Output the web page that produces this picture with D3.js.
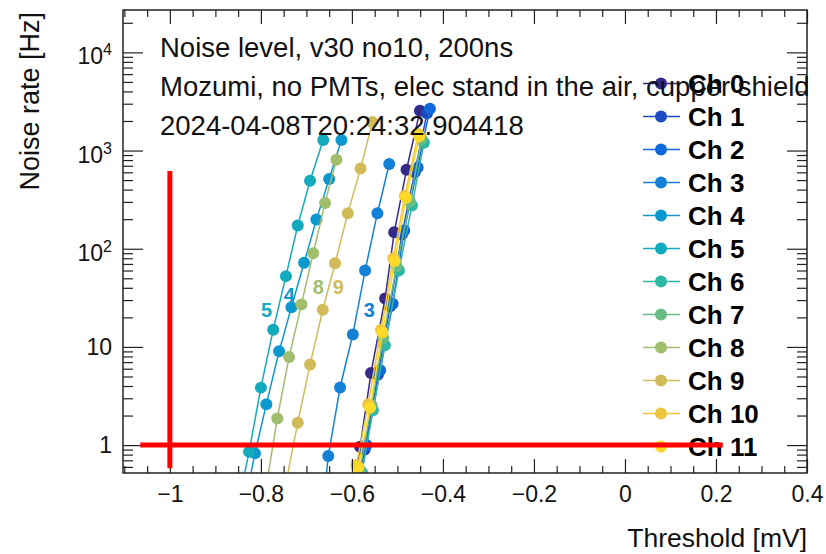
<!DOCTYPE html>
<html>
<head>
<meta charset="utf-8">
<script src="https://cdn.jsdelivr.net/npm/d3@7"></script>
<style>
  body { margin: 0; background: #fff; }
  svg { font-family: "Liberation Sans", Arial, Helvetica, sans-serif; }
</style>
</head>
<body>
<div id="chart"></div>
<script>
// Threshold scan per channel: threshold [mV] and noise rate [Hz]
const thr0 = [-0.606, -0.582, -0.558, -0.527, -0.507, -0.480, -0.4505];
const rate0 = [0.17, 0.96, 5.43, 31.2, 147, 638, 2540];
const thr1 = [-0.598, -0.572, -0.543, -0.516, -0.490, -0.462, -0.435];
const rate1 = [0.18, 0.9, 5.2, 26, 140, 600, 2400];
const thr2 = [-0.594, -0.568, -0.538, -0.5105, -0.485, -0.4556, -0.4286];
const rate2 = [0.2, 1.0, 5.78, 27.5, 153, 673, 2661];
const thr3 = [-0.678, -0.652, -0.626, -0.598, -0.571, -0.544, -0.518];
const rate3 = [0.05, 0.773, 3.86, 13.4, 60, 230, 729];
const thr4 = [-0.840, -0.813, -0.788, -0.760, -0.733, -0.705, -0.678, -0.650, -0.623];
const rate4 = [0.2, 0.824, 2.61, 9.02, 25.4, 71.9, 198, 513, 1279];
const thr5 = [-0.852, -0.826, -0.800, -0.773, -0.745, -0.719, -0.692, -0.663];
const rate5 = [0.22, 0.855, 3.85, 15.0, 52.6, 172, 493, 1279];
const thr6 = [-0.603, -0.578, -0.5538, -0.5275, -0.4967, -0.468, -0.4418];
const rate6 = [0.12, 0.53, 2.27, 10.4, 60, 275, 1200];
const thr7 = [-0.607, -0.5824, -0.5567, -0.5312, -0.5018, -0.4725, -0.4468];
const rate7 = [0.12, 0.557, 2.55, 12.4, 66.4, 302, 1309];
const thr8 = [-0.790, -0.764, -0.738, -0.711, -0.685, -0.659, -0.634];
const rate8 = [0.34, 1.87, 7.89, 27.1, 90, 293, 806];
const thr9 = [-0.745, -0.719, -0.692, -0.664, -0.637, -0.609, -0.581, -0.555];
const rate9 = [0.41, 1.69, 6.61, 23.9, 71.2, 229.6, 658, 1950];
const thr10 = [-0.615, -0.590, -0.564, -0.536, -0.509, -0.4835, -0.4543];
const rate10 = [0.12, 0.626, 2.61, 15, 80, 347, 1472];
const thr11 = [-0.612, -0.586, -0.560, -0.533, -0.506, -0.481, -0.452];
const rate11 = [0.12, 0.6, 2.4, 14, 75, 330, 1400];

const channelNames = ['Ch 0', 'Ch 1', 'Ch 2', 'Ch 3', 'Ch 4', 'Ch 5',
                      'Ch 6', 'Ch 7', 'Ch 8', 'Ch 9', 'Ch 10', 'Ch 11'];
const thresholds = [thr0, thr1, thr2, thr3, thr4, thr5, thr6, thr7, thr8, thr9, thr10, thr11];
const rates = [rate0, rate1, rate2, rate3, rate4, rate5, rate6, rate7, rate8, rate9, rate10, rate11];

// hand-written channel labels next to curves
const curveLabels = ['5', '4', '8', '9', '3'];
const curveLabelThr = [-0.7875, -0.7378, -0.674, -0.630, -0.562];
const curveLabelRate = [23.5, 33.4, 40.5, 40.5, 23.9];
const curveLabelChannel = [5, 4, 8, 9, 3];

// red reference lines
const cutRate = 1;
const cutRateThr = [-1.065, 0.215];
const cutThr = -1;
const cutThrRate = [0.58, 620];

const xTicks = [-1, -0.8, -0.6, -0.4, -0.2, 0, 0.2, 0.4];
const yTicks = [1, 10, 100, 1000, 10000];
const headerLines = [
  'Noise level, v30 no10, 200ns',
  'Mozumi, no PMTs, elec stand in the air, cupper shield',
  '2024-04-08T20:24:32.904418'
];

// ROOT kBird palette stops
const birdR = [0.2082, 0.0592, 0.0780, 0.0232, 0.1802, 0.5301, 0.8186, 0.9956, 0.9764];
const birdG = [0.1664, 0.3599, 0.5041, 0.6419, 0.7178, 0.7492, 0.7328, 0.7862, 0.9832];
const birdB = [0.5293, 0.8684, 0.8385, 0.7914, 0.6425, 0.4662, 0.3499, 0.1968, 0.0539];
function bird(t) {
  const s = t * 8;
  const i = Math.min(7, Math.floor(s));
  const f = s - i;
  const c = arr => Math.round(255 * (arr[i] + (arr[i + 1] - arr[i]) * f));
  return d3.rgb(c(birdR), c(birdG), c(birdB)).formatHex();
}

const width = 826, height = 554;
const frame = { left: 123, right: 807, top: 10, bottom: 473 };
const font = 'Liberation Sans, Arial, Helvetica, sans-serif';

const svg = d3.select('#chart').append('svg')
  .attr('width', width)
  .attr('height', height);

svg.append('rect').attr('width', width).attr('height', height).attr('fill', '#fff');

const x = d3.scaleLinear().domain([-1.103, 0.4]).range([frame.left, frame.right]);
const y = d3.scaleLog().domain([0.52, 27000]).range([frame.bottom, frame.top]);

svg.append('defs').append('clipPath').attr('id', 'frame-clip')
  .append('rect')
  .attr('x', frame.left).attr('y', frame.top)
  .attr('width', frame.right - frame.left)
  .attr('height', frame.bottom - frame.top);

// ROOT picks palette colours as i / n over the graphs
const colors = channelNames.map((_, i) => bird(i / channelNames.length));

// graphs
const series = channelNames.map((name, i) => ({
  name,
  color: colors[i],
  points: thresholds[i].map((t, k) => ({ t, r: rates[i][k] }))
}));

const line = d3.line().x(d => x(d.t)).y(d => y(d.r));
const plot = svg.append('g').attr('clip-path', 'url(#frame-clip)');

series.forEach(s => {
  const g = plot.append('g');
  g.append('path')
    .datum(s.points)
    .attr('d', line)
    .attr('fill', 'none')
    .attr('stroke', s.color)
    .attr('stroke-width', 1.5);
  g.selectAll('circle')
    .data(s.points)
    .join('circle')
    .attr('cx', d => x(d.t))
    .attr('cy', d => y(d.r))
    .attr('r', 6)
    .attr('fill', s.color);
});

// curve labels
plot.selectAll('text.curve')
  .data(curveLabels)
  .join('text')
  .attr('class', 'curve')
  .attr('x', (d, i) => x(curveLabelThr[i]))
  .attr('y', (d, i) => y(curveLabelRate[i]))
  .attr('text-anchor', 'middle')
  .attr('dy', '0.35em')
  .attr('font-size', 20)
  .attr('font-weight', 'bold')
  .attr('fill', (d, i) => colors[curveLabelChannel[i]])
  .text(d => d);

// axes
const xMinor = d3.range(-1.1, 0.401, 0.05).filter(v => !xTicks.some(t => Math.abs(t - v) < 1e-6));
const yMinor = [];
[0.1, 1, 10, 100, 1000, 10000].forEach(dec => {
  for (let k = 2; k <= 9; k++) {
    const v = k * dec;
    if (v >= 0.52 && v <= 27000) yMinor.push(v);
  }
});

const axisStyle = g => {
  g.select('.domain').remove();
  g.selectAll('line').attr('stroke', '#222').attr('stroke-width', 1.2);
};

svg.append('g')
  .attr('transform', `translate(0,${frame.bottom})`)
  .call(d3.axisBottom(x).tickValues(xTicks).tickSize(-14).tickPadding(13)
    .tickFormat(d3.format('~g')))
  .call(axisStyle)
  .call(g => g.selectAll('text').attr('font-size', 23).attr('fill', '#111').attr('font-family', font));
svg.append('g')
  .attr('transform', `translate(0,${frame.bottom})`)
  .call(d3.axisBottom(x).tickValues(xMinor).tickSize(-7).tickFormat(''))
  .call(axisStyle);
svg.append('g')
  .attr('transform', `translate(0,${frame.top})`)
  .call(d3.axisTop(x).tickValues(xTicks).tickSize(-14).tickFormat(''))
  .call(axisStyle);
svg.append('g')
  .attr('transform', `translate(0,${frame.top})`)
  .call(d3.axisTop(x).tickValues(xMinor).tickSize(-7).tickFormat(''))
  .call(axisStyle);

svg.append('g')
  .attr('transform', `translate(${frame.left},0)`)
  .call(d3.axisLeft(y).tickValues(yTicks).tickSize(-20).tickFormat(''))
  .call(axisStyle);
svg.append('g')
  .attr('transform', `translate(${frame.left},0)`)
  .call(d3.axisLeft(y).tickValues(yMinor).tickSize(-10).tickFormat(''))
  .call(axisStyle);
svg.append('g')
  .attr('transform', `translate(${frame.right},0)`)
  .call(d3.axisRight(y).tickValues(yTicks).tickSize(-20).tickFormat(''))
  .call(axisStyle);
svg.append('g')
  .attr('transform', `translate(${frame.right},0)`)
  .call(d3.axisRight(y).tickValues(yMinor).tickSize(-10).tickFormat(''))
  .call(axisStyle);

// y tick labels, 10^n with superscript
yTicks.forEach(v => {
  const e = Math.round(Math.log10(v));
  const t = svg.append('text')
    .attr('x', frame.left - 11)
    .attr('text-anchor', 'end')
    .attr('font-size', 23)
    .attr('fill', '#111');
  if (e <= 1) {
    t.attr('y', y(v)).attr('dy', '0.36em').text(String(v));
  } else {
    t.attr('y', y(v) + 12);
    t.append('tspan').text('10');
    t.append('tspan').attr('dy', -9).attr('font-size', 16).text(String(e));
  }
});

svg.append('rect')
  .attr('x', frame.left).attr('y', frame.top)
  .attr('width', frame.right - frame.left)
  .attr('height', frame.bottom - frame.top)
  .attr('fill', 'none')
  .attr('stroke', '#222')
  .attr('stroke-width', 1.5);

// axis titles
svg.append('text')
  .attr('x', frame.right)
  .attr('y', 547)
  .attr('text-anchor', 'end')
  .attr('font-size', 26.5)
  .attr('fill', '#111')
  .text('Threshold [mV]');
svg.append('text')
  .attr('transform', `translate(39,${frame.top + 2}) rotate(-90)`)
  .attr('text-anchor', 'end')
  .attr('font-size', 27)
  .attr('fill', '#111')
  .text('Noise rate [Hz]');

// legend
const legend = svg.append('g').selectAll('g')
  .data(series)
  .join('g')
  .attr('transform', (d, i) => `translate(661,${83.5 + i * 33})`);
legend.append('line')
  .attr('x1', -18).attr('x2', 19)
  .attr('stroke', d => d.color)
  .attr('stroke-width', 1.5);
legend.append('circle')
  .attr('r', 6)
  .attr('fill', d => d.color);
legend.append('text')
  .attr('x', 27)
  .attr('dy', '0.36em')
  .attr('font-size', 26)
  .attr('font-weight', 'bold')
  .attr('fill', '#000')
  .text(d => d.name);

// header text
svg.append('g').selectAll('text')
  .data(headerLines)
  .join('text')
  .attr('x', 160)
  .attr('y', (d, i) => 57 + i * 39)
  .attr('font-size', 27.5)
  .attr('fill', '#111')
  .text(d => d);

// red reference lines
svg.append('line')
  .attr('x1', x(cutRateThr[0])).attr('x2', x(cutRateThr[1]))
  .attr('y1', y(cutRate)).attr('y2', y(cutRate))
  .attr('stroke', '#ff0000')
  .attr('stroke-width', 5);
svg.append('line')
  .attr('x1', x(cutThr)).attr('x2', x(cutThr))
  .attr('y1', y(cutThrRate[0])).attr('y2', y(cutThrRate[1]))
  .attr('stroke', '#ff0000')
  .attr('stroke-width', 5);
</script>
</body>
</html>
